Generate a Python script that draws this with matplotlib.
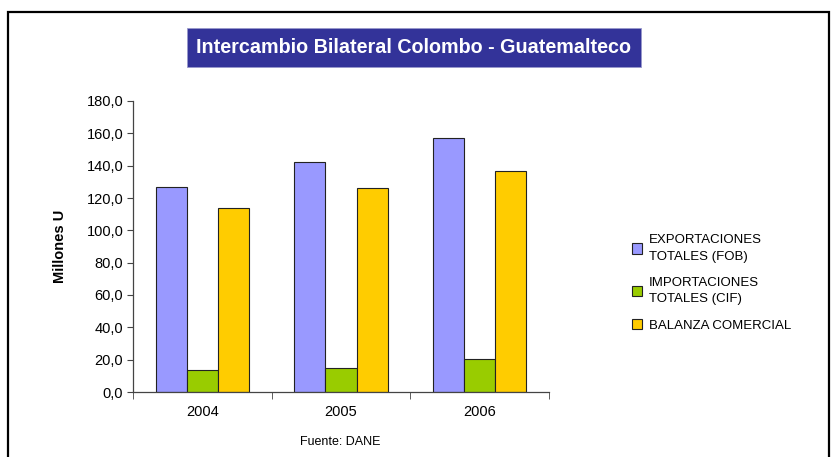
import matplotlib
matplotlib.use("Agg")
import matplotlib.pyplot as plt
from matplotlib.patches import Rectangle
import numpy as np

plt.rcParams['font.family'] = ['Liberation Sans', 'DejaVu Sans']

years = ['2004', '2005', '2006']
exportaciones = [127.0, 142.0, 157.3]
importaciones = [13.4, 14.6, 20.2]
balanza = [113.6, 126.0, 136.7]
series_names = ['EXPORTACIONES\nTOTALES (FOB)', 'IMPORTACIONES\nTOTALES (CIF)', 'BALANZA COMERCIAL']
colors = ['#9999FF', '#99CC00', '#FFCC00']
yticks = np.arange(0, 181, 20)

fig = plt.figure(figsize=(8.32, 4.57), dpi=100)

# outer frame (bottom edge falls outside the image)
fig.patches.append(Rectangle((8 / 832, -0.05), 821 / 832, 1.05 - 12 / 457,
                             transform=fig.transFigure, fill=False,
                             edgecolor='black', linewidth=1.6))

ax = fig.add_axes([133 / 832, 1 - 392 / 457, 416 / 832, 291 / 457])

x = np.arange(len(years))
w = 0.225
for i, (vals, c, name) in enumerate(zip([exportaciones, importaciones, balanza], colors, series_names)):
    ax.bar(x + (i - 1) * w, vals, width=w, color=c, edgecolor='#222222',
           linewidth=0.8, label=name)

ax.set_xlim(-0.5, 2.5)
ax.set_ylim(0, 180)
ax.set_yticks(yticks)
ax.set_yticklabels([f'{v:.1f}'.replace('.', ',') for v in yticks], fontsize=10.5)
ax.set_xticks(x)
ax.set_xticklabels(years, fontsize=10.5)
ax.tick_params(axis='x', length=0, pad=9)
ax.set_xticks(np.arange(-0.5, 2.6, 1), minor=True)
ax.tick_params(axis='x', which='minor', length=5, color='#444444')
ax.tick_params(axis='y', length=4, color='#444444', pad=3)
for s in ['top', 'right']:
    ax.spines[s].set_visible(False)
for s in ['left', 'bottom']:
    ax.spines[s].set_color('#444444')
    ax.spines[s].set_linewidth(0.9)

ax.set_ylabel('Millones U', fontsize=10.5, fontweight='bold', labelpad=14)

# title in a filled box
fig.text(414 / 832, 1 - 47.5 / 457, 'Intercambio Bilateral Colombo - Guatemalteco',
         ha='center', va='center', color='white', fontsize=14.2, fontweight='bold',
         bbox=dict(boxstyle='square,pad=0.5', facecolor='#333399', edgecolor='#9999cc',
                   linewidth=0.6))

fig.text(340 / 832, 1 - 442 / 457, 'Fuente: DANE', ha='center', va='center', fontsize=9)

leg = fig.legend(loc='center left', bbox_to_anchor=(620 / 832, 1 - 283 / 457), frameon=False,
                 fontsize=9.5, handlelength=0.8, handleheight=0.8, handletextpad=0.5,
                 labelspacing=1.05)
for t in leg.get_texts():
    t.set_linespacing(1.5)

fig.savefig('out.png', dpi=100)
